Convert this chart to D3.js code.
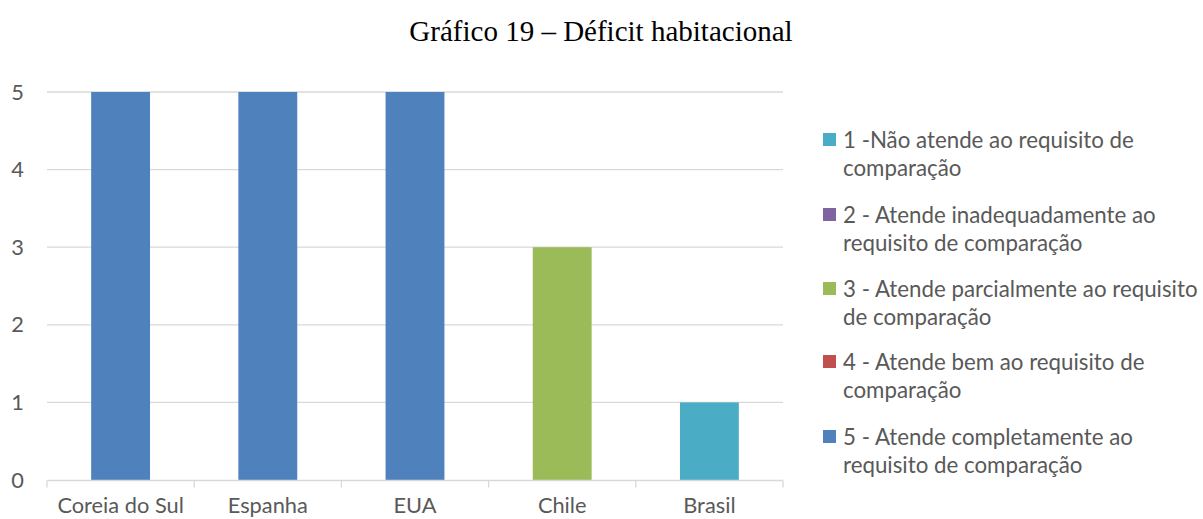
<!DOCTYPE html>
<html><head><meta charset="utf-8">
<script src="https://cdn.jsdelivr.net/npm/d3@7"></script>
<style>body{margin:0;background:#fff}svg{display:block}</style>
</head><body>
<svg id="c" width="1203" height="519"></svg>
<script>
const categories = ["Coreia do Sul","Espanha","EUA","Chile","Brasil"];
const values = [5,5,5,3,1];
const levels = [1,2,3,4,5];
const levelColors = ["#4BACC6","#8064A2","#9BBB59","#C0504D","#4F81BD"];
const legendLines = [
  ["1 -Não atende ao requisito de","comparação"],
  ["2 - Atende inadequadamente ao","requisito de comparação"],
  ["3 - Atende parcialmente ao requisito","de comparação"],
  ["4 - Atende bem ao requisito de","comparação"],
  ["5 - Atende completamente ao","requisito de comparação"]
];
const yTicks = [0,1,2,3,4,5];
const title = "Gráfico 19 – Déficit habitacional";

const svg = d3.select("#c");
const font = "Lato, 'Open Sans', sans-serif";
const fs = 21.8;
const x = d3.scaleBand().domain(categories).range([47,783]).paddingInner(0).paddingOuter(0);
const y = d3.scaleLinear().domain([0,5]).range([480,92]);
const color = d3.scaleOrdinal().domain(levels).range(levelColors);

svg.append("text").attr("x",601).attr("y",41).attr("text-anchor","middle")
  .attr("font-family","'Liberation Serif','Times New Roman',serif").attr("font-size",29).attr("fill","#000").text(title);

// gridlines
svg.append("g").selectAll("line").data(yTicks.filter(d=>d>0)).join("line")
  .attr("x1",47).attr("x2",783).attr("y1",d=>y(d)).attr("y2",d=>y(d))
  .attr("stroke","#d9d9d9").attr("stroke-width",1.3);

// y labels
svg.append("g").selectAll("text").data(yTicks).join("text")
  .attr("x",24).attr("y",d=>y(d)).attr("dy","0.35em").attr("text-anchor","end")
  .attr("font-family",font).attr("font-size",fs).attr("fill","#595959").text(d=>d);

// bars
const bw = x.bandwidth()*0.4;
svg.append("g").selectAll("rect").data(categories).join("rect")
  .attr("x",d=>x(d)+x.bandwidth()/2-bw/2).attr("width",bw)
  .attr("y",(d,i)=>y(values[i])).attr("height",(d,i)=>y(0)-y(values[i]))
  .attr("fill",(d,i)=>color(values[i]));

// x axis
const xa = svg.append("g").attr("transform","translate(0,480.5)");
xa.append("line").attr("x1",47).attr("x2",783).attr("stroke","#d9d9d9").attr("stroke-width",1.3);
const bounds = categories.map(d=>x(d)).concat([783]);
xa.selectAll("line.t").data(bounds).join("line").attr("class","t")
  .attr("x1",d=>d).attr("x2",d=>d).attr("y1",0).attr("y2",7).attr("stroke","#d9d9d9").attr("stroke-width",1.3);
xa.selectAll("text").data(categories).join("text")
  .attr("x",d=>x(d)+x.bandwidth()/2).attr("y",32).attr("text-anchor","middle")
  .attr("font-family",font).attr("font-size",fs).attr("fill","#595959").text(d=>d);

// legend
const leg = svg.append("g");
const itemY = [140,215,289,362,437];
levels.forEach((lv,i)=>{
  leg.append("rect").attr("x",823).attr("y",itemY[i]-7).attr("width",13).attr("height",13).attr("fill",color(lv));
  legendLines[i].forEach((t,j)=>{
    leg.append("text").attr("x",843).attr("y",itemY[i]+j*28).attr("dy","0.35em")
      .attr("font-family",font).attr("font-size",22.3).attr("fill","#595959").text(t);
  });
});
</script>
</body></html>
